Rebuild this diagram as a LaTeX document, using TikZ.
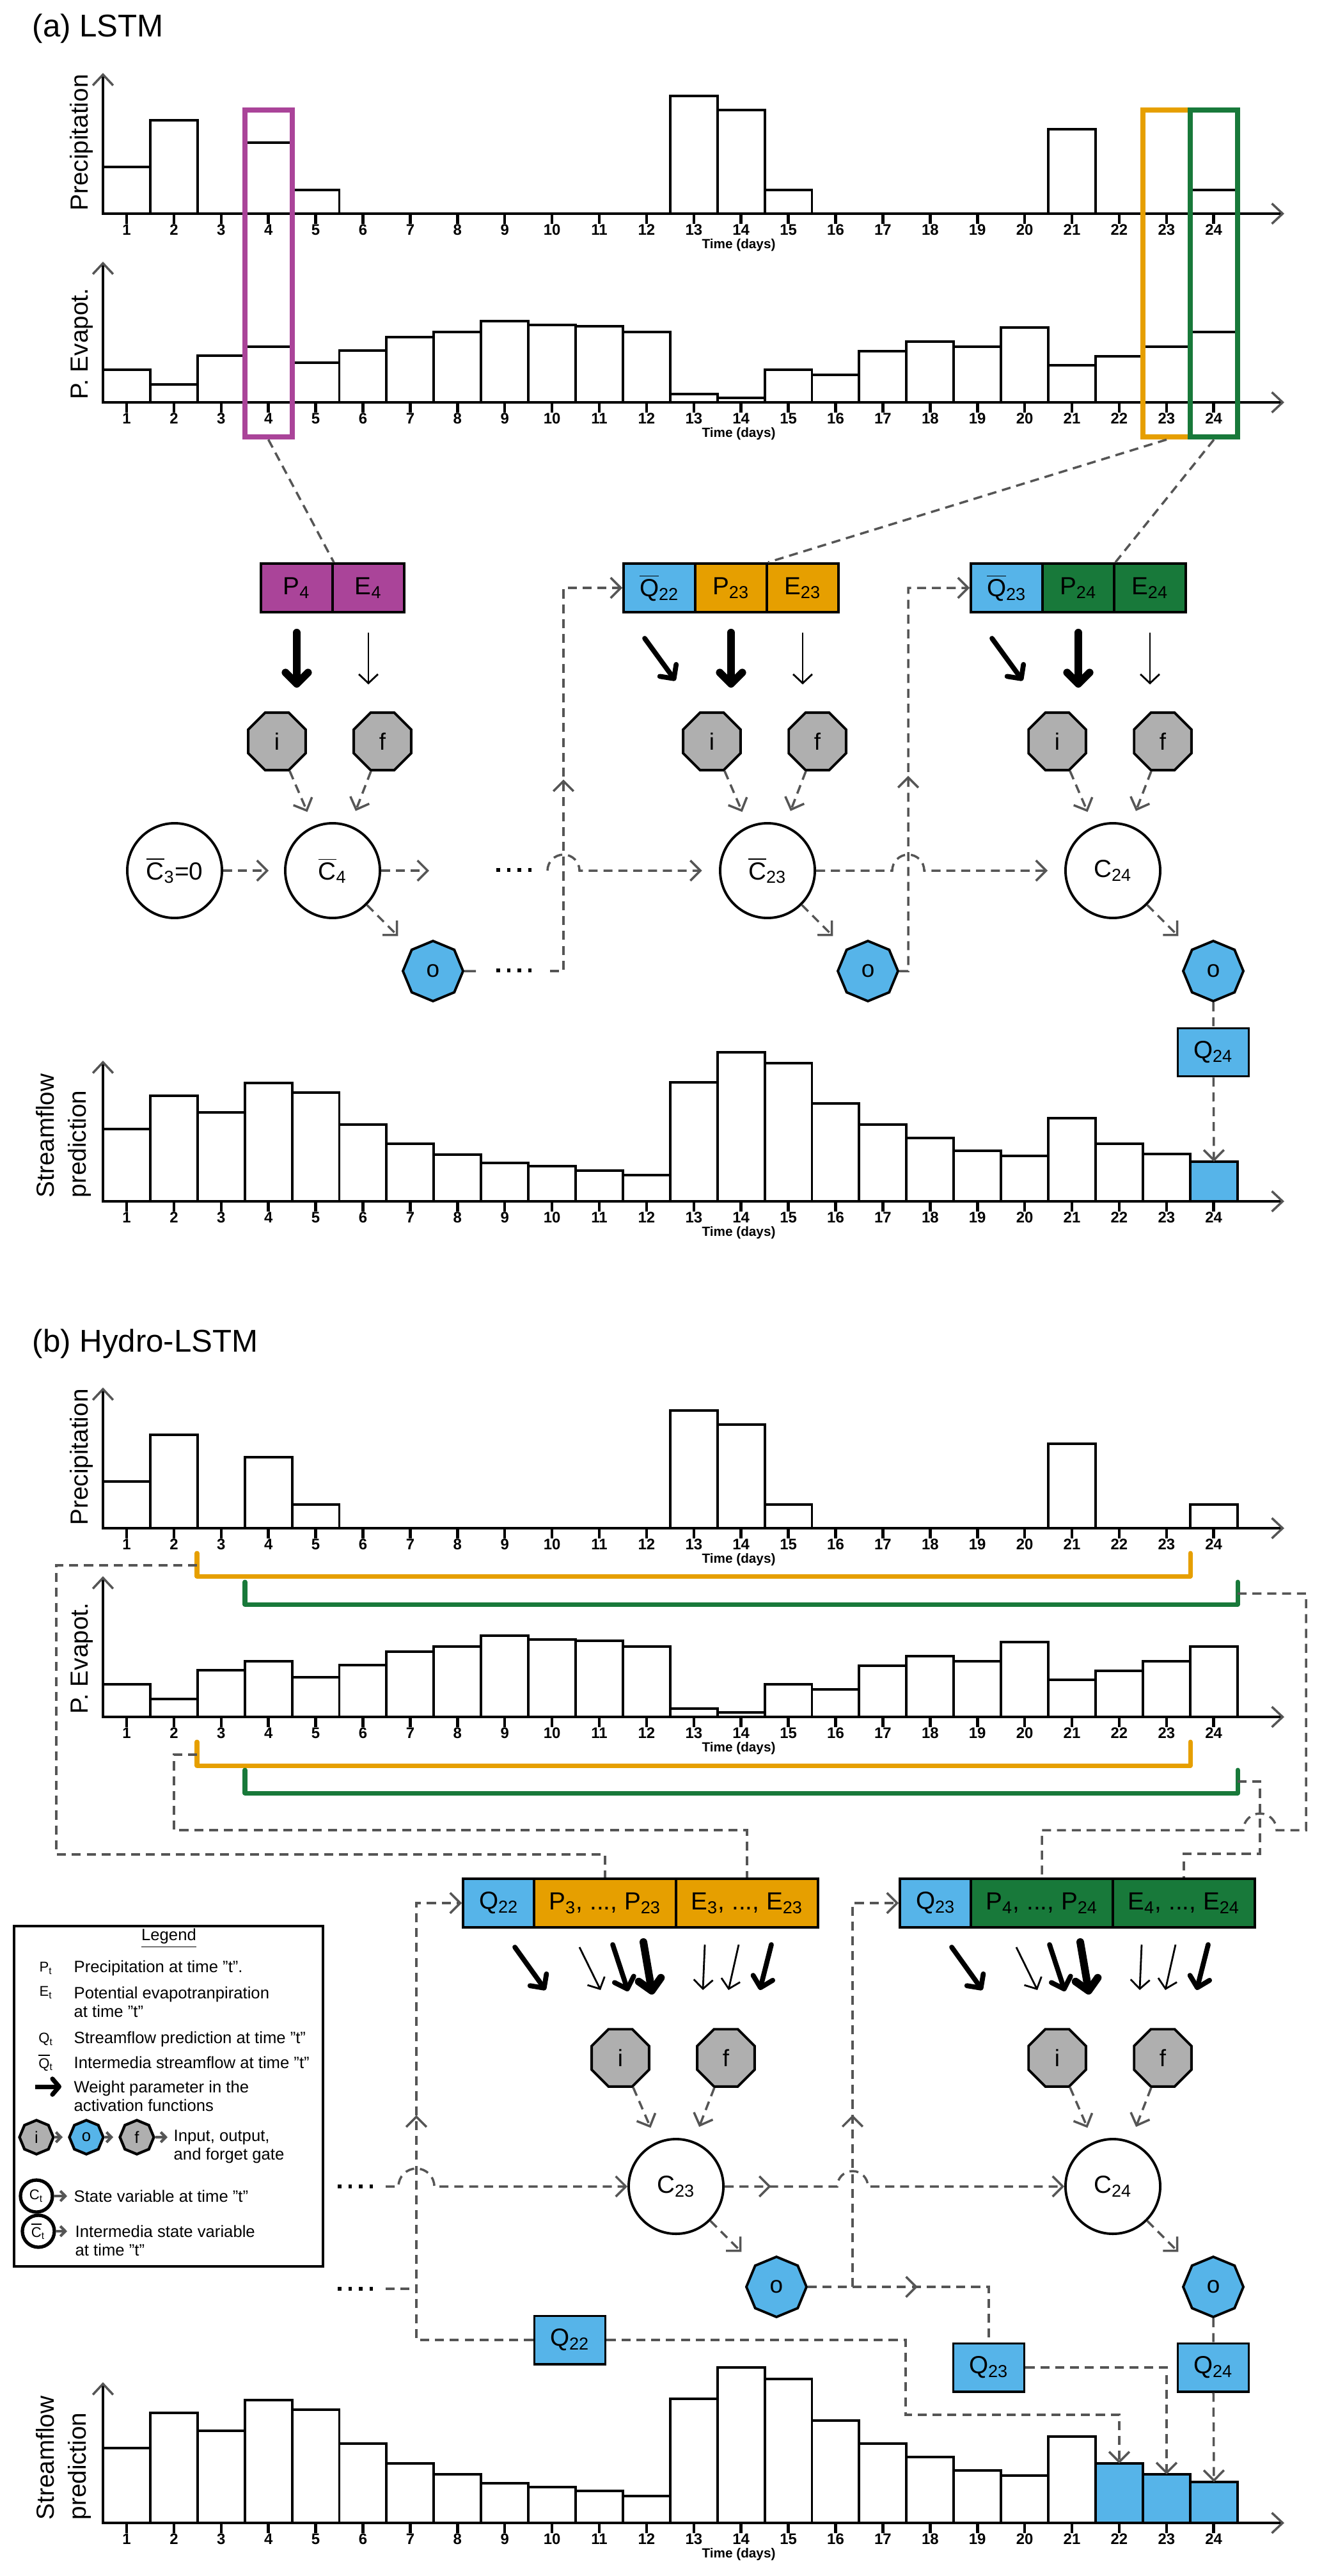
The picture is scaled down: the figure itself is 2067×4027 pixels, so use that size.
\documentclass[tikz,border=0pt]{standalone}
\usepackage{fontspec}
\setmainfont{Liberation Sans}
\usetikzlibrary{arrows.meta,shapes.geometric,calc,decorations.markings}

\definecolor{wpurple}{HTML}{AA4499}
\definecolor{worange}{HTML}{E69F00}
\definecolor{wgreen}{HTML}{18793A}
\definecolor{qblue}{HTML}{56B4E9}
\definecolor{gatefill}{HTML}{AFAFAF}
\definecolor{conngray}{HTML}{555555}

\newcommand{\titlefont}{\fontsize{14}{17}\selectfont}
\newcommand{\axfont}{\fontsize{11}{13}\selectfont}
\newcommand{\tickfont}{\fontsize{6.8}{8}\selectfont\bfseries}
\newcommand{\timefont}{\fontsize{5.9}{7}\selectfont\bfseries}
\newcommand{\boxfont}{\fontsize{11}{13}\selectfont}
\newcommand{\gatefont}{\fontsize{10.5}{12}\selectfont}
\newcommand{\lgfont}{\fontsize{7.3}{8.3}\selectfont}
\newcommand{\lgsymfont}{\fontsize{6.3}{7}\selectfont}
\newcommand{\ovl}[1]{\ensuremath{\overline{\hbox{#1}}}}

% #1 name, #2 baseline, #3 first blue bar, #4 bar heights
\newcommand{\barchart}[4]{%
  \foreach \h [count=\i] in {#4} {
    \ifnum\h>0
      \ifnum\i<#3
        \draw[barbox] ({161+(\i-1)*73.9},#2) rectangle ++(73.9,-\h);
      \else
        \draw[barbox, fill=qblue] ({161+(\i-1)*73.9},#2) rectangle ++(73.9,-\h);
      \fi
    \fi
    \draw[axline] ({198+(\i-1)*73.9},#2) -- ++(0,16);
    \node (#1-\i) at ({198+(\i-1)*73.9},#2+25) [ticklbl] {\i};
  }
  \draw[axline, axarr] (161,#2) -- (161,#2-220);
  \draw[axline, axarr] (161,#2) -- (2008,#2);
  \node (#1-time) at (1155,#2+49) [timelbl] {Time (days)};
}

\begin{document}
\begin{tikzpicture}[x=0.01cm, y=-0.01cm,
    barbox/.style={draw, line width=1.1pt, fill=white},
    axline/.style={line width=1.3pt},
    axarr/.style={-{Straight Barb[length=4.8pt,width=9pt,line width=1pt,color=conngray]}},
    ticklbl/.style={font=\tickfont, inner sep=0pt},
    timelbl/.style={font=\timefont, inner sep=0pt},
    axlbl/.style={font=\axfont, rotate=90, anchor=base west, inner sep=0pt},
    titlelbl/.style={font=\titlefont, anchor=base west, inner sep=0pt},
    winbox/.style={draw=#1, line width=2.3pt, minimum width=0.739cm, minimum height=5.11cm, inner sep=0pt},
    cellbox/.style={draw, line width=1.1pt, fill=#1, minimum width=1.12cm, minimum height=0.76cm, inner sep=0pt, font=\boxfont},
    widebox/.style={cellbox=#1, minimum width=2.22cm},
    qbox/.style={cellbox=qblue, minimum width=1.11cm, minimum height=0.75cm},
    cellc/.style={draw, circle, line width=1.1pt, minimum size=1.48cm, inner sep=0pt, font=\boxfont},
    gate/.style={draw, regular polygon, regular polygon sides=8, line width=1.1pt, fill=gatefill, minimum size=0.97cm, inner sep=0pt, font=\gatefont},
    ogate/.style={gate, fill=qblue, shape border rotate=22.5, minimum size=0.94cm},
    dline/.style={conngray, line width=1pt, dash pattern=on 4pt off 2.6pt},
    dconn/.style={dline, -{Straight Barb[length=4.5pt,width=9pt]}},
    midarr/.style={postaction={decorate,decoration={markings,mark=at position #1 with {\arrow{Straight Barb[length=4.5pt,width=9pt,color=conngray]}}}}},
    wthin/.style={line width=0.8pt, -{Straight Barb[length=4pt,width=8.5pt]}},
    wmid/.style={line width=2.2pt, line cap=round, -{Straight Barb[length=4.5pt,width=9pt,round]}},
    wthick/.style={line width=3.4pt, line cap=round, -{Straight Barb[length=5pt,width=10pt,round]}},
    brk/.style={draw=#1, line width=2pt, line cap=round, line join=round},
    dotrow/.style={line width=1.6pt, dash pattern=on 1.6pt off 3.1pt},
    lgtxt/.style={font=\lgfont, anchor=west, align=left, inner sep=0pt},
    lgsym/.style={font=\lgsymfont, inner sep=0pt},
    lggate/.style={draw, regular polygon, regular polygon sides=8, shape border rotate=22.5, line width=1.2pt, fill=gatefill, minimum size=0.53cm, inner sep=0pt, font=\lgfont},
    lgcirc/.style={draw, circle, line width=1.5pt, minimum size=0.5cm, inner sep=0pt, font=\lgsymfont},
    lgarr/.style={conngray, line width=1.2pt, -{Straight Barb[length=2.2pt,width=4.5pt]}}
  ]
  \useasboundingbox[fill=white] (0,0) rectangle (2067,4027);

  % ---------------- (a) LSTM
  \node (ttla) at (50,58) [titlelbl] {(a) LSTM};
  \barchart{chpa}{334}{25}{73,146,0,111,37,0,0,0,0,0,0,0,184,162,37,0,0,0,0,0,132,0,0,37}
  \barchart{chea}{629}{25}{51,28,73,87,62,81,102,110,127,121,119,110,13,7,51,43,80,95,87,117,58,72,87,110}
  \node (ylpa) at (137,330) [axlbl] {Precipitation};
  \node (ylea) at (137,625) [axlbl] {P. Evapot.};

  \node (wa4) at (419.6,427.5) [winbox=wpurple] {};
  \node (wa23) at (1824,427.5) [winbox=worange] {};
  \node (wa24) at (1898,427.5) [winbox=wgreen] {};

  \node (pa4) at (464,919) [cellbox=wpurple] {P\textsubscript{4}};
  \node (ea4) at (576,919) [cellbox=wpurple] {E\textsubscript{4}};
  \node (qa23) at (1031,919) [cellbox=qblue] {\ovl{Q}\textsubscript{22}};
  \node (pa23) at (1143,919) [cellbox=worange] {P\textsubscript{23}};
  \node (ea23) at (1255,919) [cellbox=worange] {E\textsubscript{23}};
  \node (qa24) at (1574,919) [cellbox=qblue] {\ovl{Q}\textsubscript{23}};
  \node (pa24) at (1686,919) [cellbox=wgreen] {P\textsubscript{24}};
  \node (ea24) at (1798,919) [cellbox=wgreen] {E\textsubscript{24}};
  \draw[dline] (wa4.south) -- (pa4.north east);
  \draw[dline] (wa23.south) -- (pa23.north east);
  \draw[dline] (wa24.south) -- (pa24.north east);

  \draw[wthick] ($(pa4.south)+(0,30)$) -- ++(0,86);
  \draw[wthin] ($(ea4.south)+(0,30)$) -- ++(0,81);
  \foreach \t in {23,24}{
    \draw[wmid] ($(qa\t.south)+(-23,39)$) -- ++(48,66);
    \draw[wthick] ($(pa\t.south)+(0,30)$) -- ++(0,86);
    \draw[wthin] ($(ea\t.south)+(0,30)$) -- ++(0,81);
  }

  \node (ca3) at (273,1361) [cellc] {\ovl{C}\textsubscript{3}=0};
  \foreach \t/\x/\lab in {4/520/{\ovl{C}\textsubscript{4}}, 23/1200/{\ovl{C}\textsubscript{23}}, 24/1740/{C\textsubscript{24}}}{
    \node (ca\t) at (\x,1361) [cellc] {\lab};
    \node (ia\t) at (\x-87,1159) [gate] {i};
    \node (fa\t) at (\x+78,1159) [gate] {f};
    \node (oa\t) at (\x+157,1518) [ogate] {o};
    \draw[dconn, shorten >=6.8pt] (ia\t) -- (ca\t);
    \draw[dconn, shorten >=6.8pt] (fa\t) -- (ca\t);
    \draw[dconn, shorten >=8pt] (ca\t) -- (oa\t);
  }
  \draw[dconn, shorten >=6.8pt] (ca3) -- (ca4);
  \coordinate (ca4x) at (671,1361);
  \draw[dconn] (ca4) -- (ca4x);
  \draw[dotrow] (776,1360) -- (833,1360);
  \coordinate (hopa23) at (856,1361);
  \draw[dconn, shorten >=7.5pt] (hopa23) arc[start angle=180,end angle=0,radius=0.25cm] -- (ca23);
  \draw[dconn, shorten >=7.4pt] (ca23) -- (1395,1361) arc[start angle=180,end angle=0,radius=0.25cm] -- (ca24);

  \coordinate (oa4x) at (744,1518);
  \draw[conngray, line width=1pt] (oa4) -- (oa4x);
  \draw[dotrow] (776,1517) -- (833,1517);
  \coordinate (ja4) at (860,1518);
  \draw[dconn, midarr=0.45] (ja4) -- (881,1518) |- (qa23);
  \draw[dconn, midarr=0.45] (oa23) -- (1420,1518) |- (qa24);

  \node (outa24) at (1897,1645) [qbox] {Q\textsubscript{24}};
  \draw[dline] (oa24) -- (outa24);
  \barchart{chsa}{1878}{24}{113,165,139,185,170,120,90,73,60,55,48,41,186,233,216,153,120,99,79,71,130,90,74,62}
  \node (ylsa1) at (84,1873) [axlbl] {Streamflow};
  \node (ylsa2) at (134,1873) [axlbl] {prediction};
  \coordinate (sa24) at (1898,1816);
  \draw[dconn] (outa24) -- (sa24);

  % ---------------- (b) Hydro-LSTM
  \node (ttlb) at (50,2113) [titlelbl] {(b) Hydro-LSTM};
  \barchart{chpb}{2389}{25}{73,146,0,111,37,0,0,0,0,0,0,0,184,162,37,0,0,0,0,0,132,0,0,37}
  \barchart{cheb}{2684}{25}{51,28,73,87,62,81,102,110,127,121,119,110,13,7,51,43,80,95,87,117,58,72,87,110}
  \node (ylpb) at (137,2385) [axlbl] {Precipitation};
  \node (yleb) at (137,2680) [axlbl] {P. Evapot.};

  \draw[brk=worange] (308,2428) |- (1861,2464) -- (1861,2428);
  \draw[brk=wgreen] (383,2473) |- (1935,2508) -- (1935,2473);
  \draw[brk=worange] (308,2723) |- (1861,2760) -- (1861,2723);
  \draw[brk=wgreen] (383,2767) |- (1935,2803) -- (1935,2767);

  \node (qb23) at (780,2975) [cellbox=qblue] {Q\textsubscript{22}};
  \node (pb23) at (946,2975) [widebox=worange] {P\textsubscript{3}, ..., P\textsubscript{23}};
  \node (eb23) at (1168,2975) [widebox=worange] {E\textsubscript{3}, ..., E\textsubscript{23}};
  \node (qb24) at (1463,2975) [cellbox=qblue] {Q\textsubscript{23}};
  \node (pb24) at (1629,2975) [widebox=wgreen] {P\textsubscript{4}, ..., P\textsubscript{24}};
  \node (eb24) at (1851,2975) [widebox=wgreen] {E\textsubscript{4}, ..., E\textsubscript{24}};

  \coordinate (brp23) at (308,2447);
  \coordinate (bre23) at (308,2743);
  \coordinate (brp24) at (1935,2491);
  \coordinate (bre24) at (1935,2785);
  \draw[dline] (brp23) -- (88,2447) |- (946,2899) -- (pb23);
  \draw[dline] (bre23) -- (272,2743) |- (1168,2861) -- (eb23);
  \draw[dline] (brp24) -- (2042,2491) |- (1996,2861) arc[start angle=0,end angle=180,radius=0.26cm] -- (1629,2861) -- (pb24);
  \draw[dline] (bre24) -- (1970,2785) |- (1851,2898) -- (eb24);

  \foreach \t in {23,24}{
    \draw[wmid] ($(qb\t.south)+(25,29)$) -- ++(48,67);
    \draw[wthin] ($(pb\t.south)+(-40,29)$) -- ++(33,67);
    \draw[wmid] ($(pb\t.south)+(12,25)$) -- ++(24,73);
    \draw[wthick] ($(pb\t.south)+(60,21)$) -- ++(14,82);
    \draw[wthin] ($(eb\t.south)+(-66,25)$) -- ++(-3,71);
    \draw[wthin] ($(eb\t.south)+(-13,25)$) -- ++(-16,71);
    \draw[wmid] ($(eb\t.south)+(38,25)$) -- ++(-18,71);
  }

  \foreach \t/\x/\lab in {23/1057/{C\textsubscript{23}}, 24/1740/{C\textsubscript{24}}}{
    \node (cb\t) at (\x,3418) [cellc] {\lab};
    \node (ib\t) at (\x-87,3217) [gate] {i};
    \node (fb\t) at (\x+78,3217) [gate] {f};
    \node (ob\t) at (\x+157,3575) [ogate] {o};
    \draw[dconn, shorten >=6.8pt] (ib\t) -- (cb\t);
    \draw[dconn, shorten >=6.8pt] (fb\t) -- (cb\t);
    \draw[dconn, shorten >=8pt] (cb\t) -- (ob\t);
  }

  \draw[dotrow] (528,3418) -- (585,3418);
  \coordinate (inb23) at (603,3418);
  \draw[dconn] (inb23) -- (623,3418) arc[start angle=180,end angle=0,radius=0.28cm] -- (cb23);
  \draw[dconn, midarr=0.13] (cb23) -- (1309,3418) arc[start angle=180,end angle=0,radius=0.24cm] -- (cb24);

  \node (outb22) at (891,3658) [qbox] {Q\textsubscript{22}};
  \draw[dconn, midarr=0.57] (outb22) -- (651,3658) |- (qb23);
  \draw[dotrow] (528,3578) -- (585,3578);
  \coordinate (inb22) at (603,3578);
  \draw[dline] (inb22) -- (651,3578);

  \node (outb23) at (1546,3701) [qbox] {Q\textsubscript{23}};
  \draw[dline, midarr=0.465] (ob23) -| (outb23);
  \coordinate (jb23) at (1333,3575);
  \draw[dconn, midarr=0.40] (jb23) |- (qb24);
  \node (outb24) at (1897,3701) [qbox] {Q\textsubscript{24}};
  \draw[dline] (ob24) -- (outb24);

  \barchart{chsb}{3944}{22}{117,172,144,192,177,124,93,76,62,56,50,42,194,243,225,160,124,103,82,74,135,93,76,64}
  \node (ylsb1) at (84,3940) [axlbl] {Streamflow};
  \node (ylsb2) at (134,3940) [axlbl] {prediction};
  \coordinate (sb22) at (1750,3851);
  \coordinate (sb23) at (1824,3868);
  \coordinate (sb24) at (1898,3880);
  \draw[dconn] (outb22) -- (1416,3658) |- (1750,3775) -- (sb22);
  \draw[dconn] (outb23) -| (sb23);
  \draw[dconn] (outb24) -- (sb24);

  % legend
  \node (legend) at (263.5,3277) [draw, line width=1.1pt, minimum width=4.83cm, minimum height=5.32cm] {};
  \node (lgtitle) at (264,3030) [font=\lgfont, inner sep=0pt] {\underline{Legend}};
  \node (lgp) at (72,3077) [lgsym] {P\textsubscript{t}};
  \node (lgpt) at (115,3077) [lgtxt] {Precipitation at time "t".};
  \node (lge) at (72,3115) [lgsym] {E\textsubscript{t}};
  \node (lget) at (115,3129.5) [lgtxt] {Potential evapotranpiration\\at time "t"};
  \node (lgq) at (72,3188) [lgsym] {Q\textsubscript{t}};
  \node (lgqt) at (115,3188) [lgtxt] {Streamflow prediction at time "t"};
  \node (lgqb) at (72,3224) [lgsym] {\ovl{Q}\textsubscript{t}};
  \node (lgqbt) at (115,3224) [lgtxt] {Intermedia streamflow at time "t"};
  \draw[line width=2pt, -{Straight Barb[length=3pt,width=7pt,round]}] (55,3262) -- (96,3262);
  \node (lgw) at (115,3276.5) [lgtxt] {Weight parameter in the\\activation functions};
  \node (lgi) at (57,3341) [lggate] {i};
  \node (lgo) at (135,3341) [lggate, fill=qblue] {o};
  \node (lgf) at (214,3341) [lggate] {f};
  \coordinate (lgfx) at (262,3341);
  \draw[lgarr, shorten >=2.3pt] (lgi) -- (lgo);
  \draw[lgarr, shorten >=2.3pt] (lgo) -- (lgf);
  \draw[lgarr] (lgf) -- (lgfx);
  \node (lggt) at (271,3356) [lgtxt] {Input, output,\\and forget gate};
  \node (lgc) at (57,3433) [lgcirc] {C\textsubscript{t}};
  \coordinate (lgcx) at (105,3433);
  \draw[lgarr] (lgc) -- (lgcx);
  \node (lgct) at (115,3433) [lgtxt] {State variable at time "t"};
  \node (lgcb) at (60,3488) [lgcirc] {\ovl{C}\textsubscript{t}};
  \coordinate (lgcbx) at (105,3488);
  \draw[lgarr] (lgcb) -- (lgcbx);
  \node (lgcbt) at (117,3502.5) [lgtxt] {Intermedia state variable\\at time "t"};
\end{tikzpicture}
\end{document}
